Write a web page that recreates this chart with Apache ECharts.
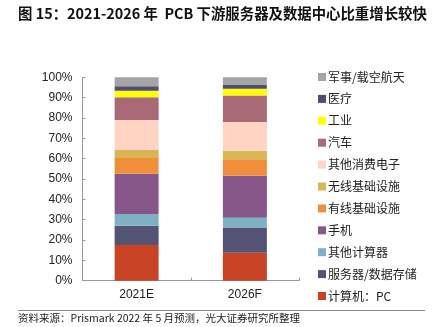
<!DOCTYPE html>
<html><head><meta charset="utf-8">
<script src="https://cdn.jsdelivr.net/npm/echarts@6/dist/echarts.min.js"></script>
<style>html,body{margin:0;padding:0;background:#fff}#c{width:433px;height:327px}</style>
</head><body><div id="c"></div>
<script>
var categories = ['2021E', '2026F'];
var seriesNames = ['计算机：PC', '服务器/数据存储', '其他计算器', '手机', '有线基础设施', '无线基础设施', '其他消费电子', '汽车', '工业', '医疗', '军事/载空航天'];
var pc = [17.5, 13.8];
var server = [9.5, 12.3];
var otherComputing = [5.8, 4.9];
var phone = [19.8, 20.6];
var wired = [7.7, 8.1];
var wireless = [4.0, 4.2];
var otherConsumer = [14.7, 14.1];
var auto = [11.2, 13.1];
var industrial = [3.2, 3.3];
var medical = [2.2, 1.8];
var military = [4.4, 3.8];
var yTicks = [0, 10, 20, 30, 40, 50, 60, 70, 80, 90, 100];

var values = [pc, server, otherComputing, phone, wired, wireless, otherConsumer, auto, industrial, medical, military];
var colors = ['#C84424', '#545376', '#80B0C4', '#855889', '#F08E3C', '#D8B651', '#FFD4C3', '#A86A74', '#FFFF00', '#4E4E79', '#A5A5A5'];

var chart = echarts.init(document.getElementById('c'));
var series = seriesNames.map(function (n, i) {
  return {
    name: n, type: 'bar', stack: 'all', barWidth: 44,
    data: values[i], itemStyle: { color: colors[i] }
  };
});
chart.setOption({
  animation: false,
  grid: { left: 82.5, right: 134, top: 77.3, bottom: 46.3 },
  xAxis: {
    type: 'category', data: categories,
    axisLine: { lineStyle: { color: '#999', width: 1 } },
    axisTick: { show: true, inside: true, length: 3, lineStyle: { color: '#999' } },
    axisLabel: { color: '#222', fontSize: 12, fontFamily: 'Liberation Sans', margin: 8 }
  },
  yAxis: {
    type: 'value', min: 0, max: 100, interval: 10,
    axisLine: { show: true, lineStyle: { color: '#999', width: 1 } },
    axisTick: { show: true, inside: true, length: 3, lineStyle: { color: '#999' } },
    splitLine: { show: false },
    axisLabel: {
      color: '#222', fontSize: 12, fontFamily: 'Liberation Sans', margin: 10,
      formatter: function (v) { return yTicks.indexOf(v) >= 0 ? v + '%' : ''; }
    }
  },
  legend: {
    orient: 'vertical', left: 313, top: 66,
    itemWidth: 8, itemHeight: 8, itemGap: 9.9,
    icon: 'rect',
    data: seriesNames.slice().reverse(),
    textStyle: { fontSize: 12, color: '#222', fontFamily: 'Noto Sans CJK SC', padding: [0, 0, 0, -3] }
  },
  graphic: [
    { type: 'text', left: 18, top: 6, style: { text: '图 15：2021-2026 年  PCB 下游服务器及数据中心比重增长较快', font: 'bold 14.4px "Noto Sans CJK SC"', fill: '#111' } },
    { type: 'line', shape: { x1: 18, y1: 310.5, x2: 425, y2: 310.5 }, style: { stroke: '#888', lineWidth: 1 } },
    { type: 'text', left: 18, top: 313, style: { text: '资料来源：Prismark 2022 年 5 月预测，光大证券研究所整理', font: '10.5px "Noto Sans CJK SC"', fill: '#222' } }
  ],
  series: series
});
</script></body></html>
